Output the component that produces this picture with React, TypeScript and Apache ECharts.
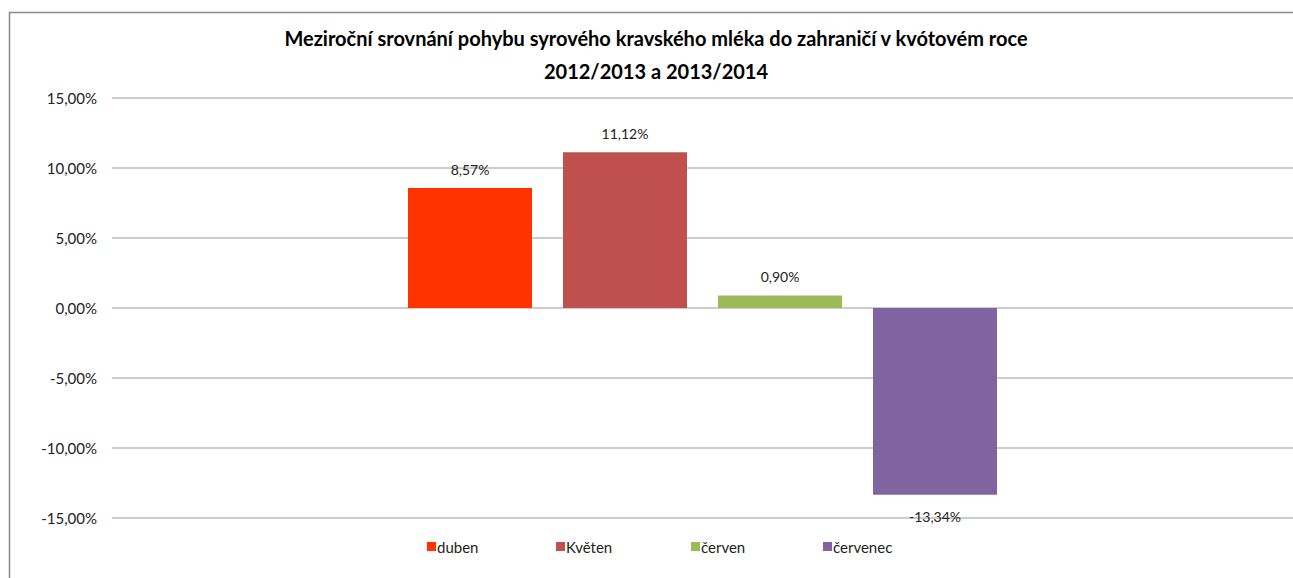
import React, { useEffect, useRef } from "react";
import * as echarts from "echarts";

const titleLines = [
  "Meziroční srovnání pohybu syrového kravského mléka do zahraničí v kvótovém roce",
  "2012/2013 a 2013/2014",
];
const seriesNames = ["duben", "Květen", "červen", "červenec"];
const seriesValues = [8.57, 11.12, 0.9, -13.34];
const seriesColors = ["#FF3300", "#C0504D", "#9BBB59", "#8064A2"];
const categories = [""];
const legendLefts = [427, 556, 691, 823];

const fmt = (v: number) => v.toFixed(2).replace(".", ",") + "%";

export default function App() {
  const ref = useRef<HTMLDivElement>(null);
  useEffect(() => {
    const chart = echarts.init(ref.current!, null, { renderer: "svg" });
    const font = "Lato, 'Open Sans', sans-serif";
    chart.setOption({
      animation: false,
      backgroundColor: "#ffffff",
      title: {
        text: titleLines.join("\n"),
        left: 651,
        textAlign: "center",
        top: 16,
        textStyle: {
          fontFamily: font,
          fontSize: 20,
          fontWeight: "bold",
          color: "#000",
          lineHeight: 33,
        },
      },
      graphic: [
        {
          type: "rect",
          shape: { x: 9.5, y: 12.5, width: 1300, height: 600 },
          style: { fill: "none", stroke: "#888", lineWidth: 1.5 },
          silent: true,
        },
      ],
      legend: seriesNames.map((name, i) => ({
        bottom: 24,
        left: legendLefts[i],
        padding: 0,
        itemWidth: 9,
        itemHeight: 9,
        icon: "rect",
        textStyle: { fontFamily: font, fontSize: 15, color: "#222", padding: [0, 0, 0, -4] },
        data: [name],
      })),
      grid: { left: 112, right: 0, top: 98, bottom: 60, containLabel: false },
      xAxis: {
        type: "category",
        data: categories,
        axisLine: { show: false },
        axisTick: { show: false },
        axisLabel: { show: false },
      },
      yAxis: {
        type: "value",
        min: -15,
        max: 15,
        interval: 5,
        axisLine: { show: false },
        axisTick: { show: false },
        axisLabel: {
          formatter: (v: number) => fmt(v),
          fontFamily: font,
          fontSize: 15,
          color: "#222",
          margin: 15,
        },
        splitLine: { lineStyle: { color: "#bbb", width: 1.5 } },
      },
      series: seriesNames.map((name, i) => ({
        name,
        type: "bar",
        data: [seriesValues[i]],
        barWidth: 124,
        barGap: "25%",
        itemStyle: { color: seriesColors[i] },
        label: {
          show: true,
          position: seriesValues[i] < 0 ? "bottom" : "top",
          distance: seriesValues[i] < 0 ? 15 : 12,
          formatter: (p: any) => fmt(p.value),
          fontFamily: font,
          fontSize: 14,
          color: "#222",
        },
      })),
    });
    return () => chart.dispose();
  }, []);
  return (
    <div
      ref={ref}
      style={{ position: "fixed", left: 0, top: 0, width: 1293, height: 578 }}
    />
  );
}
